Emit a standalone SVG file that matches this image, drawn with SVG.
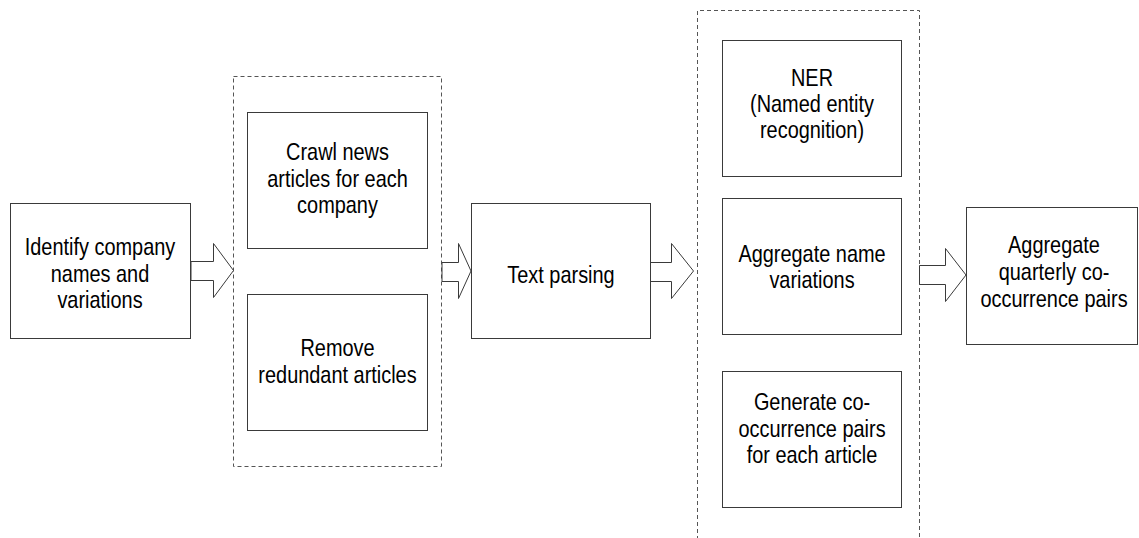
<svg xmlns="http://www.w3.org/2000/svg" width="1139" height="538" viewBox="0 0 1139 538">
<style>
.box{fill:#fff;stroke:#3a3a3a;stroke-width:1}
.grp{fill:none;stroke:#555;stroke-width:1;stroke-dasharray:4 3}
.arr{fill:#fff;stroke:#3a3a3a;stroke-width:1;stroke-linejoin:miter}
.t{font-family:"Liberation Sans",Arial,sans-serif;font-size:24px;fill:#000;text-anchor:middle}
</style>
<rect width="1139" height="538" fill="#fff"/>
<g id="group-crawl"><rect class="grp" x="233.5" y="76.5" width="208" height="390"/></g>
<g id="group-parse"><path class="grp" d="M697.5,540 V10.5 H919.5 V540"/></g>
<g id="connectors">
<polygon class="arr" points="191,261.5 213.5,261.5 213.5,243.5 233.5,270.5 213.5,297.5 213.5,280.5 191,280.5"/>
<polygon class="arr" points="442,262.5 458.5,262.5 458.5,243.5 471,271 458.5,298.5 458.5,281.5 442,281.5"/>
<polygon class="arr" points="650,262.5 671.5,262.5 671.5,243.5 693.5,271 671.5,298.5 671.5,281.5 650,281.5"/>
<polygon class="arr" points="919.5,265.5 945.5,265.5 945.5,248.5 966,275 945.5,301.5 945.5,284.5 919.5,284.5"/>
</g>
<g id="identify">
<rect class="box" x="10.5" y="203.5" width="180" height="135"/>
<text class="t" transform="translate(100 0) scale(0.83 1)"><tspan x="0" y="255">Identify company</tspan><tspan x="0" y="282">names and</tspan><tspan x="0" y="308">variations</tspan></text>
</g>
<g id="crawl">
<rect class="box" x="247.5" y="112.5" width="180" height="136"/>
<text class="t" transform="translate(337.5 0) scale(0.83 1)"><tspan x="0" y="160">Crawl news</tspan><tspan x="0" y="187">articles for each</tspan><tspan x="0" y="213">company</tspan></text>
</g>
<g id="remove">
<rect class="box" x="247.5" y="294.5" width="180" height="136"/>
<text class="t" transform="translate(337.5 0) scale(0.83 1)"><tspan x="0" y="356">Remove</tspan><tspan x="0" y="383">redundant articles</tspan></text>
</g>
<g id="parsing">
<rect class="box" x="471.5" y="203.5" width="179" height="135"/>
<text class="t" transform="translate(561 0) scale(0.83 1)"><tspan x="0" y="283">Text parsing</tspan></text>
</g>
<g id="ner">
<rect class="box" x="722.5" y="40.5" width="179" height="136"/>
<text class="t" transform="translate(812 0) scale(0.83 1)"><tspan x="0" y="86">NER</tspan><tspan x="0" y="112">(Named entity</tspan><tspan x="0" y="138">recognition)</tspan></text>
</g>
<g id="aggregate-name">
<rect class="box" x="722.5" y="198.5" width="179" height="136"/>
<text class="t" transform="translate(812 0) scale(0.83 1)"><tspan x="0" y="262">Aggregate name</tspan><tspan x="0" y="288">variations</tspan></text>
</g>
<g id="generate">
<rect class="box" x="722.5" y="371.5" width="179" height="136"/>
<text class="t" transform="translate(812 0) scale(0.83 1)"><tspan x="0" y="410">Generate co-</tspan><tspan x="0" y="437">occurrence pairs</tspan><tspan x="0" y="463">for each article</tspan></text>
</g>
<g id="aggregate-quarterly">
<rect class="box" x="966.5" y="207.5" width="171" height="137"/>
<text class="t" transform="translate(1054 0) scale(0.83 1)"><tspan x="0" y="253">Aggregate</tspan><tspan x="0" y="280">quarterly co-</tspan><tspan x="0" y="307">occurrence pairs</tspan></text>
</g>
</svg>
